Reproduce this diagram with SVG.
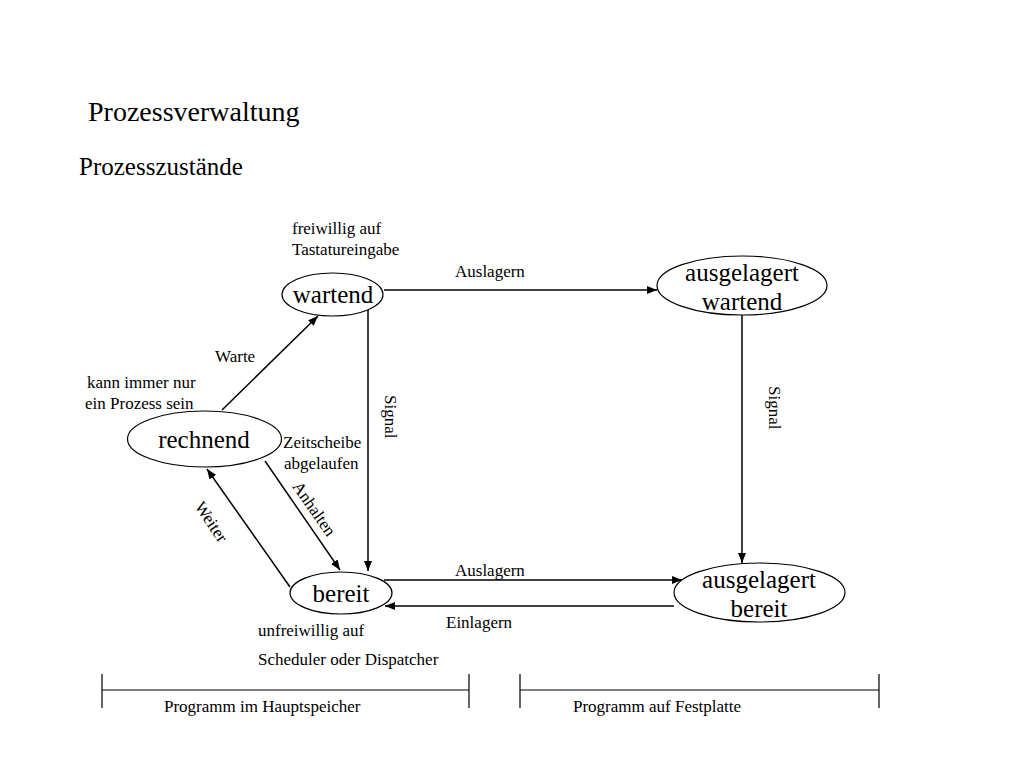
<svg xmlns="http://www.w3.org/2000/svg" width="1024" height="768" viewBox="0 0 1024 768">
<style>
text{font-family:"Liberation Serif","Times New Roman",serif;fill:#000}
.node{font-size:25px;text-anchor:middle}
.lbl{font-size:17px}
.st{fill:#fff;stroke:#000;stroke-width:1.2}
.ln{stroke:#000;stroke-width:1.5;fill:none}
.ar{stroke:#000;stroke-width:1.5;fill:none;marker-end:url(#ah)}
</style>
<defs>
<marker id="ah" viewBox="0 0 10 8" refX="10" refY="4" markerWidth="10" markerHeight="8" markerUnits="userSpaceOnUse" orient="auto">
<path d="M0,0 L10,4 L0,8 Z" fill="#000"/>
</marker>
</defs>
<rect width="1024" height="768" fill="#fff"/>
<text x="88" y="121" font-size="28">Prozessverwaltung</text>
<text x="79" y="175" font-size="25">Prozesszustände</text>

<g id="connectors">
<line class="ar" x1="384" y1="290" x2="657" y2="290"/>
<line class="ar" x1="368" y1="309" x2="368" y2="571"/>
<line class="ar" x1="742" y1="315" x2="742" y2="563"/>
<line class="ar" x1="222" y1="410" x2="318" y2="316"/>
<line class="ar" x1="265" y1="461" x2="340" y2="570"/>
<line class="ar" x1="290" y1="587" x2="207" y2="469"/>
<line class="ar" x1="384" y1="580" x2="682" y2="580"/>
<line class="ar" x1="674" y1="606" x2="385" y2="606"/>
</g>

<g id="wartend">
<ellipse class="st" cx="332.5" cy="294.5" rx="50.5" ry="21.5"/>
<text class="node" x="333" y="303">wartend</text>
</g>
<g id="rechnend">
<ellipse class="st" cx="204.5" cy="439" rx="77" ry="28"/>
<text class="node" x="204" y="448">rechnend</text>
</g>
<g id="bereit">
<ellipse class="st" cx="341" cy="593" rx="51" ry="21"/>
<text class="node" x="341" y="602">bereit</text>
</g>
<g id="ausgelagert-wartend">
<ellipse class="st" cx="742" cy="285.5" rx="85" ry="29.5"/>
<text class="node" x="742" y="281">ausgelagert</text>
<text class="node" x="742" y="310">wartend</text>
</g>
<g id="ausgelagert-bereit">
<ellipse class="st" cx="759.5" cy="592.5" rx="85.5" ry="29.5"/>
<text class="node" x="759" y="588">ausgelagert</text>
<text class="node" x="759" y="617">bereit</text>
</g>

<g id="labels">
<text class="lbl" x="292" y="234">freiwillig auf</text>
<text class="lbl" x="292" y="255">Tastatureingabe</text>
<text class="lbl" x="455" y="277">Auslagern</text>
<text class="lbl" x="215" y="362">Warte</text>
<text class="lbl" x="87" y="388">kann immer nur</text>
<text class="lbl" x="85" y="409">ein Prozess sein</text>
<text class="lbl" x="283" y="448">Zeitscheibe</text>
<text class="lbl" x="284" y="469">abgelaufen</text>
<text class="lbl" transform="translate(385,395) rotate(90)">Signal</text>
<text class="lbl" transform="translate(769,386) rotate(90)">Signal</text>
<text class="lbl" text-anchor="middle" transform="translate(309.5,512) rotate(55)">Anhalten</text>
<text class="lbl" text-anchor="middle" transform="translate(206.5,525) rotate(56)">Weiter</text>
<text class="lbl" x="455" y="576">Auslagern</text>
<text class="lbl" x="446" y="628">Einlagern</text>
<text class="lbl" x="258" y="636">unfreiwillig auf</text>
<text class="lbl" x="258" y="665">Scheduler oder Dispatcher</text>
</g>

<g id="brackets">
<path class="ln" style="stroke-width:1.2" d="M102,690 H469 M102,674 V708 M469,674 V708"/>
<path class="ln" style="stroke-width:1.2" d="M520,690 H879 M520,674 V708 M879,674 V708"/>
<text class="lbl" x="164" y="712">Programm im Hauptspeicher</text>
<text class="lbl" x="573" y="712">Programm auf Festplatte</text>
</g>
</svg>
